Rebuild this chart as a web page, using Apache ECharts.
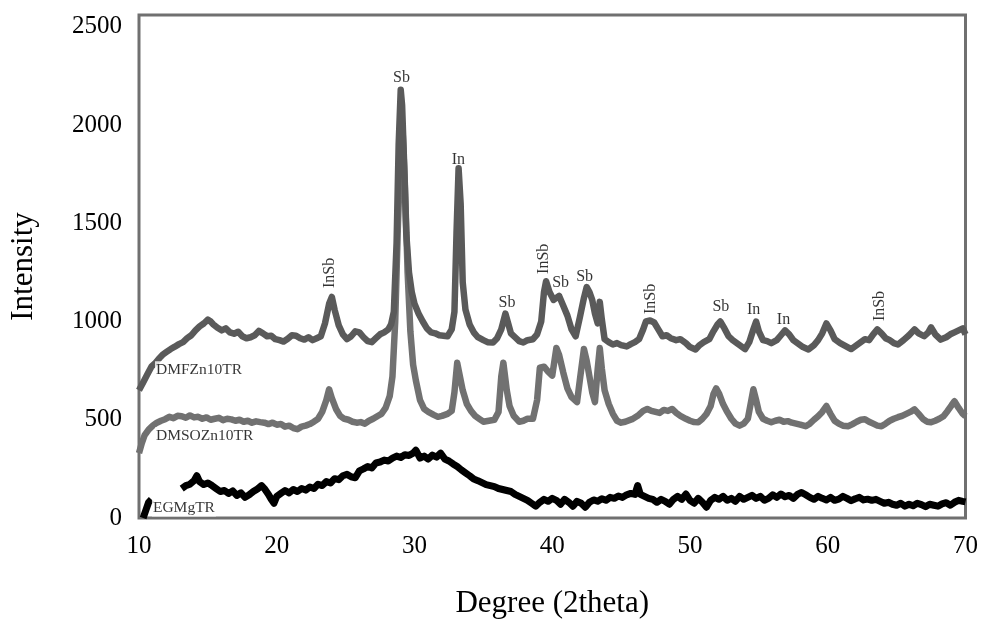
<!DOCTYPE html>
<html>
<head>
<meta charset="utf-8">
<script src="https://cdn.jsdelivr.net/npm/echarts@6/dist/echarts.min.js"></script>
<style>
html, body { margin: 0; padding: 0; background: #fff; }
#main { width: 981px; height: 625px; }
</style>
</head>
<body>
<div id="main"></div>
<script>
// XRD patterns, [2theta, intensity]
var dmfZn10TR = [[10.0,650],[10.3,690],[10.6,730],[10.9,770],[11.2,790],[11.5,815],[11.7,830],[12.0,845],[12.3,860],[12.6,872],[12.9,885],[13.2,895],[13.5,915],[13.8,930],[14.1,955],[14.4,975],[14.7,990],[15.0,1010],[15.2,1000],[15.4,985],[15.7,968],[16.0,955],[16.3,965],[16.6,945],[16.9,938],[17.2,948],[17.5,925],[17.8,915],[18.1,920],[18.4,930],[18.7,952],[19.0,940],[19.3,925],[19.6,928],[19.9,910],[20.2,905],[20.5,898],[20.8,912],[21.1,930],[21.4,928],[21.7,915],[22.0,908],[22.3,920],[22.6,905],[22.9,915],[23.2,925],[23.5,990],[23.8,1090],[24.0,1125],[24.2,1060],[24.5,980],[24.8,935],[25.1,910],[25.4,925],[25.7,950],[26.0,945],[26.3,920],[26.6,900],[26.9,895],[27.2,915],[27.5,935],[27.8,945],[28.1,960],[28.3,985],[28.5,1050],[28.7,1400],[28.85,1900],[29.0,2180],[29.1,2100],[29.25,1800],[29.4,1450],[29.6,1250],[29.8,1150],[30.0,1090],[30.3,1040],[30.6,1000],[30.9,965],[31.2,945],[31.5,940],[31.8,930],[32.1,928],[32.4,925],[32.7,960],[32.9,1050],[33.05,1450],[33.2,1780],[33.35,1600],[33.5,1200],[33.7,1060],[34.0,985],[34.3,945],[34.6,920],[35.0,905],[35.3,895],[35.7,893],[36.0,915],[36.3,960],[36.6,1040],[36.8,990],[37.0,940],[37.3,920],[37.6,900],[37.9,893],[38.2,905],[38.6,910],[38.9,935],[39.2,1000],[39.4,1150],[39.55,1205],[39.8,1150],[40.1,1110],[40.5,1130],[40.8,1080],[41.1,1030],[41.4,960],[41.7,925],[42.0,1020],[42.3,1120],[42.5,1175],[42.7,1150],[42.9,1110],[43.1,1040],[43.3,990],[43.45,1100],[43.6,1010],[43.8,910],[44.1,895],[44.4,883],[44.7,890],[45.0,880],[45.4,873],[45.7,885],[46.0,895],[46.3,910],[46.6,960],[46.8,1000],[47.1,1005],[47.4,995],[47.7,960],[48.0,925],[48.3,930],[48.6,915],[49.0,905],[49.3,910],[49.7,890],[50.0,870],[50.4,858],[50.7,880],[51.0,895],[51.4,910],[51.7,950],[52.0,985],[52.2,1000],[52.5,965],[52.8,925],[53.1,905],[53.5,885],[54.0,860],[54.3,895],[54.6,960],[54.8,1000],[55.0,950],[55.3,905],[55.6,900],[55.9,890],[56.3,905],[56.6,930],[56.9,955],[57.2,935],[57.5,905],[57.8,890],[58.2,870],[58.6,858],[59.0,880],[59.3,905],[59.6,940],[59.9,990],[60.2,955],[60.5,910],[60.9,890],[61.3,875],[61.7,860],[62.1,880],[62.4,895],[62.7,910],[63.0,905],[63.3,935],[63.6,960],[63.9,940],[64.2,915],[64.5,905],[64.8,890],[65.1,883],[65.5,905],[65.9,930],[66.3,960],[66.6,940],[67.0,925],[67.3,945],[67.5,970],[67.8,935],[68.2,908],[68.6,920],[68.9,935],[69.2,945],[69.5,955],[69.8,965],[70.0,935]];

var dmsoZn10TR = [[10.0,330],[10.2,380],[10.4,420],[10.7,450],[11.0,470],[11.3,485],[11.6,495],[11.9,503],[12.2,515],[12.5,508],[12.8,520],[13.1,518],[13.4,510],[13.7,522],[14.0,512],[14.3,515],[14.6,505],[14.9,512],[15.2,500],[15.5,505],[15.8,510],[16.1,498],[16.4,505],[16.7,502],[17.0,495],[17.3,500],[17.6,490],[17.9,495],[18.2,485],[18.5,492],[18.8,488],[19.1,485],[19.4,478],[19.7,485],[20.0,475],[20.3,478],[20.6,465],[20.9,470],[21.2,458],[21.5,452],[21.8,465],[22.1,470],[22.4,478],[22.7,490],[23.0,505],[23.3,540],[23.6,600],[23.8,655],[24.0,610],[24.3,555],[24.6,520],[24.9,505],[25.2,500],[25.5,490],[25.8,485],[26.1,488],[26.4,480],[26.7,495],[27.0,505],[27.3,518],[27.6,530],[27.9,560],[28.2,620],[28.4,720],[28.6,1000],[28.8,1500],[29.0,1880],[29.15,1950],[29.3,1700],[29.5,1250],[29.7,950],[29.9,780],[30.1,700],[30.4,600],[30.7,555],[31.0,540],[31.4,525],[31.7,515],[32.0,520],[32.4,530],[32.7,545],[32.9,640],[33.1,790],[33.3,720],[33.5,650],[33.8,580],[34.1,545],[34.4,520],[34.7,505],[35.0,490],[35.4,495],[35.8,500],[36.1,540],[36.3,720],[36.45,790],[36.7,650],[36.9,570],[37.2,520],[37.6,490],[37.9,495],[38.2,505],[38.6,505],[38.9,600],[39.1,765],[39.4,770],[39.7,745],[40.0,725],[40.3,865],[40.5,830],[40.8,740],[41.1,660],[41.4,615],[41.8,590],[42.0,700],[42.3,860],[42.5,800],[42.7,720],[42.9,640],[43.1,590],[43.3,760],[43.45,865],[43.6,760],[43.8,650],[44.1,580],[44.4,530],[44.7,495],[45.0,485],[45.3,490],[45.8,503],[46.2,520],[46.6,545],[46.9,555],[47.2,545],[47.5,540],[47.8,535],[48.1,550],[48.4,545],[48.7,555],[49.0,535],[49.3,520],[49.7,505],[50.0,495],[50.3,488],[50.6,487],[50.9,505],[51.2,530],[51.5,570],[51.7,630],[51.9,660],[52.1,635],[52.4,580],[52.7,540],[53.0,505],[53.3,480],[53.6,470],[53.9,480],[54.2,505],[54.4,580],[54.6,655],[54.8,600],[55.0,540],[55.3,505],[55.6,495],[55.9,487],[56.2,495],[56.5,500],[56.8,490],[57.1,493],[57.4,485],[57.7,480],[58.0,475],[58.4,467],[58.7,480],[59.0,500],[59.3,518],[59.6,540],[59.9,570],[60.2,530],[60.5,495],[60.8,480],[61.1,470],[61.5,467],[61.8,478],[62.1,490],[62.4,500],[62.7,503],[63.0,490],[63.3,480],[63.6,470],[63.9,467],[64.2,480],[64.5,495],[64.8,505],[65.1,513],[65.4,520],[65.7,530],[66.0,540],[66.3,553],[66.6,530],[66.9,505],[67.2,490],[67.5,487],[67.8,495],[68.1,505],[68.4,518],[68.7,545],[69.0,575],[69.2,594],[69.5,560],[69.8,530],[70.0,518]];

var egMgTR = [[10.3,0],[10.5,40],[10.7,80],[10.9,95],[11.0,'-'],[13.1,150],[13.4,165],[13.7,172],[14.0,190],[14.2,215],[14.4,185],[14.7,170],[15.0,178],[15.3,165],[15.6,150],[15.9,135],[16.2,140],[16.5,125],[16.8,138],[17.1,115],[17.4,128],[17.7,105],[18.0,118],[18.3,135],[18.6,148],[18.9,165],[19.1,150],[19.4,120],[19.6,95],[19.8,75],[20.0,110],[20.3,125],[20.6,140],[20.9,128],[21.2,145],[21.5,135],[21.8,150],[22.1,142],[22.4,158],[22.7,150],[23.0,172],[23.3,165],[23.6,185],[23.9,178],[24.2,200],[24.5,195],[24.8,215],[25.1,222],[25.4,210],[25.7,205],[26.0,240],[26.3,250],[26.6,262],[26.9,255],[27.2,280],[27.5,285],[27.8,295],[28.1,290],[28.4,305],[28.7,315],[29.0,308],[29.3,322],[29.6,318],[29.9,330],[30.1,345],[30.4,305],[30.7,315],[31.0,300],[31.3,320],[31.6,310],[31.9,330],[32.2,300],[32.5,290],[32.8,275],[33.1,262],[33.4,245],[33.7,230],[34.0,215],[34.3,198],[34.6,190],[34.9,180],[35.2,170],[35.5,165],[35.8,160],[36.1,150],[36.4,145],[36.7,140],[37.0,135],[37.3,120],[37.6,110],[37.9,100],[38.2,90],[38.5,75],[38.8,60],[39.1,80],[39.4,95],[39.7,85],[40.0,100],[40.3,90],[40.6,70],[40.9,95],[41.2,80],[41.5,60],[41.8,85],[42.1,75],[42.4,55],[42.7,80],[43.0,92],[43.3,85],[43.6,98],[43.9,90],[44.2,105],[44.5,100],[44.8,112],[45.1,105],[45.4,118],[45.7,125],[46.0,120],[46.2,165],[46.4,120],[46.7,110],[47.0,100],[47.3,95],[47.6,80],[47.9,95],[48.2,85],[48.5,70],[48.8,95],[49.1,110],[49.4,95],[49.7,122],[50.0,90],[50.3,75],[50.6,100],[50.9,80],[51.2,55],[51.5,90],[51.8,105],[52.1,95],[52.4,110],[52.7,90],[53.0,100],[53.3,85],[53.6,110],[53.9,95],[54.2,105],[54.5,115],[54.8,100],[55.1,110],[55.4,90],[55.7,100],[56.0,118],[56.3,105],[56.6,122],[56.9,108],[57.2,115],[57.5,100],[57.8,120],[58.1,130],[58.4,118],[58.7,105],[59.0,95],[59.3,110],[59.6,100],[59.9,92],[60.2,105],[60.5,90],[60.8,96],[61.1,110],[61.4,100],[61.7,88],[62.0,98],[62.3,105],[62.6,92],[62.9,96],[63.2,90],[63.5,95],[63.8,85],[64.1,75],[64.4,80],[64.7,70],[65.0,65],[65.3,75],[65.6,60],[65.9,70],[66.2,62],[66.5,75],[66.8,68],[67.1,58],[67.4,70],[67.7,65],[68.0,60],[68.3,72],[68.6,78],[68.9,65],[69.2,80],[69.5,90],[69.8,85],[70.0,82]];

// sample names written at the left of each trace
var sampleNames = ['DMFZn10TR', 'DMSOZn10TR', 'EGMgTR'];
var sampleX = [11.16, 11.16, 10.94];
var sampleY = [754, 418, 51];

// phase labels over the peaks
var peakNames = ['Sb', 'In', 'InSb', 'Sb', 'InSb', 'Sb', 'Sb', 'InSb', 'Sb', 'In', 'In', 'InSb'];
var peakX = [29.06, 33.18, 23.86, 36.71, 39.39, 40.61, 42.35, 47.18, 52.24, 54.62, 56.79, 63.79];
var peakY = [2240, 1823, 1247, 1095, 1319, 1197, 1227, 1115, 1074, 1059, 1008, 1079];

var xTicks = [10, 20, 30, 40, 50, 60, 70];
var yTicks = [0, 500, 1000, 1500, 2000, 2500];

var serif = 'Liberation Serif';
var chart = echarts.init(document.getElementById('main'));

var peakData = peakNames.map(function (n, i) {
    return {
        value: [peakX[i], peakY[i]],
        name: n,
        label: { rotate: n === 'InSb' ? 90 : 0 }
    };
});
var sampleData = sampleNames.map(function (n, i) {
    return { value: [sampleX[i], sampleY[i]], name: n };
});

var option = {
    animation: false,
    backgroundColor: '#fff',
    grid: {
        left: 137, right: 12, top: 15, bottom: 107,
        show: true, borderColor: '#707070', borderWidth: 3
    },
    xAxis: {
        type: 'value', min: 10, max: 70, interval: 10,
        name: 'Degree (2theta)', nameLocation: 'middle', nameGap: 70,
        nameTextStyle: { fontFamily: serif, fontSize: 31, color: '#000' },
        axisLine: { show: false }, axisTick: { show: false }, splitLine: { show: false },
        axisLabel: {
            fontFamily: serif, fontSize: 25, color: '#000', margin: 16,
            formatter: function (v) { return xTicks.indexOf(v) >= 0 ? String(v) : ''; }
        }
    },
    yAxis: {
        type: 'value', min: 0, max: 2560, interval: 500,
        name: 'Intensity', nameLocation: 'middle', nameGap: 100,
        nameTextStyle: { fontFamily: serif, fontSize: 31, color: '#000' },
        axisLine: { show: false }, axisTick: { show: false }, splitLine: { show: false },
        axisLabel: {
            fontFamily: serif, fontSize: 25, color: '#000', margin: 17,
            formatter: function (v) { return yTicks.indexOf(v) >= 0 ? String(v) : ''; }
        }
    },
    series: [
        {
            name: 'DMFZn10TR', type: 'line', data: dmfZn10TR, showSymbol: false,
            lineStyle: { color: '#5a5a5a', width: 6.5, join: 'round' }, z: 3
        },
        {
            name: 'DMSOZn10TR', type: 'line', data: dmsoZn10TR, showSymbol: false,
            lineStyle: { color: '#717171', width: 6.5, join: 'round' }, z: 2
        },
        {
            name: 'EGMgTR', type: 'line', data: egMgTR, showSymbol: false,
            connectNulls: false,
            lineStyle: { color: '#000', width: 7, join: 'round' }, z: 4
        },
        {
            type: 'scatter', data: sampleData, symbolSize: 0, z: 10,
            label: {
                show: true, position: 'right', distance: 0,
                formatter: '{b}', fontFamily: serif, fontSize: 15.5, color: '#000',
                backgroundColor: '#fff', padding: [1, 1, 0, 1]
            }
        },
        {
            type: 'scatter', data: peakData, symbolSize: 0, z: 10,
            label: {
                show: true, position: 'inside',
                formatter: '{b}', fontFamily: serif, fontSize: 16, color: '#000',
                textBorderWidth: 0, textBorderColor: 'transparent'
            }
        }
    ]
};
chart.setOption(option);
</script>
</body>
</html>
